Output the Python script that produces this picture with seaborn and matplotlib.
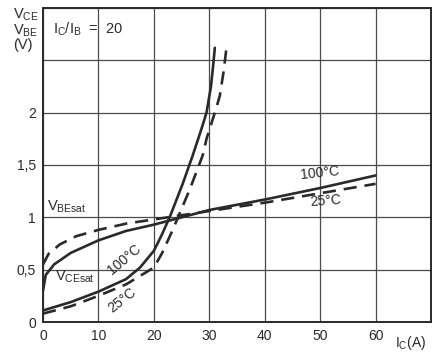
import matplotlib
matplotlib.use("Agg")
import matplotlib.pyplot as plt
import seaborn as sns
import pandas as pd

# Data
vbe100_ic = [0, 0.5, 2, 5, 10, 15, 20, 25, 30, 40, 50, 60]
vbe100_v = [0.30, 0.45, 0.55, 0.66, 0.78, 0.87, 0.93, 1.00, 1.07, 1.17, 1.28, 1.40]
vbe25_ic = [0, 1, 3, 6, 10, 15, 20, 25, 30, 40, 50, 60]
vbe25_v = [0.55, 0.65, 0.74, 0.82, 0.88, 0.94, 0.98, 1.02, 1.06, 1.14, 1.23, 1.32]
vce100_ic = [0, 5, 10, 15, 17.5, 20, 21.5, 23, 25.2, 27, 28.5, 29.5, 30.3, 30.7, 31]
vce100_v = [0.11, 0.19, 0.29, 0.41, 0.52, 0.68, 0.84, 1.02, 1.32, 1.59, 1.83, 2.00, 2.25, 2.45, 2.62]
vce25_ic = [0, 5, 10, 15, 20, 21.5, 23.4, 26.5, 28.8, 29.5, 31, 31.9, 32.6, 33.1]
vce25_v = [0.08, 0.15, 0.25, 0.36, 0.52, 0.66, 0.88, 1.27, 1.59, 1.75, 2.00, 2.16, 2.40, 2.62]

x_tick_labels = ["0", "10", "20", "30", "40", "50", "60"]
y_tick_labels = ["0", "0,5", "1", "1,5", "2"]

sns.set_style("white")
plt.rcParams["font.family"] = ["Liberation Sans", "DejaVu Sans"]

fig = plt.figure(figsize=(4.4, 3.52), dpi=100)
ax = fig.add_axes([43/440, 1-322/352, (431-43)/440, (322-8)/352])

ink = "#2a2a2a"
dash = (0, (5, 3))
curves = [
    (vbe100_ic, vbe100_v, "-"),
    (vbe25_ic, vbe25_v, dash),
    (vce100_ic, vce100_v, "-"),
    (vce25_ic, vce25_v, dash),
]
for xs, ys, ls in curves:
    df = pd.DataFrame({"ic": xs, "v": ys})
    sns.lineplot(data=df, x="ic", y="v", ax=ax, color=ink, lw=1.9,
                 linestyle=ls, sort=False, estimator=None)

ax.set_xlim(0, 70)
ax.set_ylim(0, 3)
ax.set_xticks(range(0, 71, 10))
ax.set_yticks([0, 0.5, 1, 1.5, 2, 2.5, 3])
ax.grid(True, color="#4a4a4a", lw=0.9)
ax.set_xticklabels(x_tick_labels + [""], fontsize=10, color=ink)
ax.set_yticklabels(y_tick_labels + ["", ""], fontsize=10, color=ink)
ax.tick_params(length=0, pad=5)
for s in ax.spines.values():
    s.set_color(ink)
    s.set_linewidth(1.4)
ax.set_xlabel("")
ax.set_ylabel("")

fs = 10.5
ax.text(66.3, -0.11, r"$\mathregular{I_C(A)}$", ha="center", va="top", fontsize=10, color=ink)
fig.text(0.03, 0.98, "$\\mathregular{V_{CE}}$\n$\\mathregular{V_{BE}}$\n(V)", ha="left", va="top",
         fontsize=fs, color=ink, linespacing=0.9)
ax.text(1.8, 2.8, r"$\mathregular{I_C/I_B}$  =  20", fontsize=fs, color=ink, va="center")
ax.text(0.8, 1.1, r"$\mathregular{V_{BEsat}}$", fontsize=fs, color=ink, va="center")
ax.text(2.2, 0.43, r"$\mathregular{V_{CEsat}}$", fontsize=fs, color=ink, va="center")
ax.text(14.6, 0.6, "100°C", fontsize=10, color=ink, rotation=40, ha="center", va="center")
ax.text(14.2, 0.21, "25°C", fontsize=10, color=ink, rotation=38, ha="center", va="center")
ax.text(50, 1.42, "100°C", fontsize=10, color=ink, rotation=6, ha="center", va="center")
ax.text(51, 1.16, "25°C", fontsize=10, color=ink, rotation=4, ha="center", va="center")

fig.savefig("out.png", dpi=100)
